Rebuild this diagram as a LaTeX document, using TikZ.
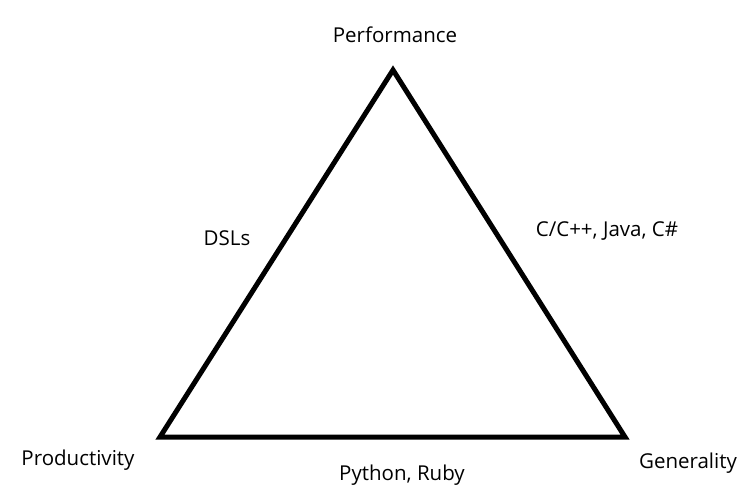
\documentclass[tikz,border=0pt]{standalone}
\usepackage{fontspec}
\setmainfont{Open Sans}
\usepackage{tikz}

\begin{document}
\begin{tikzpicture}[x=1pt,y=-1pt,
  lbl/.style={align=center, anchor=base, font=\fontsize{20.5}{24}\selectfont}]
\useasboundingbox (0,0) rectangle (754,496);

\coordinate (perf) at (393,70);
\coordinate (prod) at (160,437);
\coordinate (gen) at (625,437);
\draw[black, line width=5pt, line join=miter] (perf) -- (prod) -- (gen) -- cycle; % triangle

\node[lbl] (perflbl) at (395,42) {Performance};
\node[lbl] (prodlbl) at (78,465) {Productivity};
\node[lbl] (genlbl) at (688,468) {Generality};
\node[lbl] (dsl) at (227,245) {DSLs};
\node[lbl] (sys) at (607,236) {C/C++, Java, C\#};
\node[lbl] (script) at (402,480) {Python, Ruby};
\end{tikzpicture}
\end{document}
